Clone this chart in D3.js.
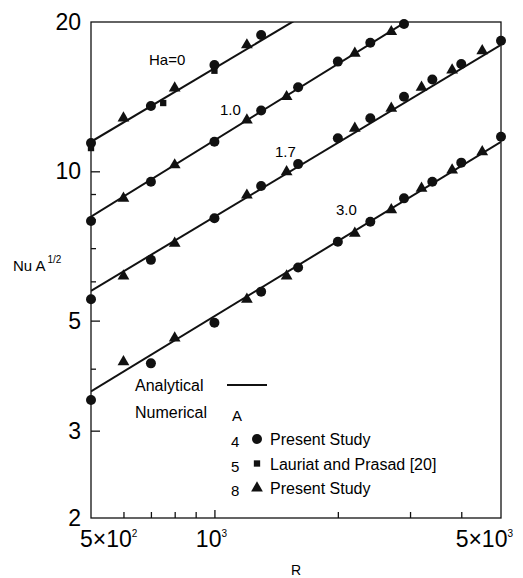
<!DOCTYPE html>
<html>
<head>
<meta charset="utf-8">
<script src="https://cdn.jsdelivr.net/npm/d3@7"></script>
<style>
  body { margin: 0; background: #fff; }
  svg { font-family: "Liberation Sans", Arial, Helvetica, sans-serif; }
</style>
</head>
<body>
<script>
// analytical lines: Nu A^1/2 at R = 500 and R = 5000
const haLabels = ["Ha=0", "1.0", "1.7", "3.0"];
const lineR = [500, 5000];
const lineNu = [[11.47, 35.6], [8.10, 26.3], [5.74, 17.98], [3.60, 11.47]];

// numerical points [R, Nu A^1/2]
const circlesA4 = [
  [500, 11.40], [700, 13.54], [1000, 16.38], [1300, 18.83],
  [500, 7.94], [700, 9.53], [1000, 11.47], [1300, 13.26], [1600, 14.77], [2000, 16.64], [2400, 18.17], [2900, 19.82],
  [500, 5.52], [700, 6.63], [1000, 8.04], [1300, 9.34], [1600, 10.34], [2000, 11.66], [2400, 12.79], [2900, 14.14], [3400, 15.32], [4000, 16.46], [5000, 18.34],
  [500, 3.46], [700, 4.10], [1000, 4.95], [1300, 5.72], [1600, 6.40], [2000, 7.21], [2400, 7.91], [2900, 8.82], [3400, 9.53], [4000, 10.41], [5000, 11.74]
];
const squaresA5 = [[500, 11.14], [750, 13.73], [1000, 15.95]];
const trianglesA8 = [
  [600, 12.80], [800, 14.72], [1200, 17.98],
  [600, 8.82], [800, 10.30], [1200, 12.69], [1500, 14.14], [2200, 17.29], [2700, 19.12],
  [600, 6.15], [800, 7.16], [1200, 8.95], [1500, 9.98], [2200, 12.21], [2700, 13.40], [3200, 14.77], [3800, 16.00], [4500, 17.50],
  [600, 4.13], [800, 4.61], [1200, 5.52], [1500, 6.15], [2200, 7.50], [2700, 8.36], [3200, 9.24], [3800, 10.06], [4500, 10.95]
];

const yMajor = [3, 5, 10];
const yMinor = [4, 6, 7, 8, 9];
const yLabels = [2, 3, 5, 10, 20];
const xMajor = [1000];
const xMinor = [600, 700, 800, 900, 2000, 3000, 4000];

const margin = { top: 22, right: 22, bottom: 60, left: 91 },
      width = 523 - margin.left - margin.right,
      height = 578 - margin.top - margin.bottom;

const svg = d3.select("body").append("svg")
    .attr("width", 523)
    .attr("height", 578)
  .append("g")
    .attr("transform", `translate(${margin.left},${margin.top})`);

const x = d3.scaleLog().domain([500, 5000]).range([0, width]);
const y = d3.scaleLog().domain([2, 20]).range([height, 0]);

svg.append("clipPath").attr("id", "plot")
  .append("rect").attr("width", width).attr("height", height);

// frame
svg.append("rect")
    .attr("width", width)
    .attr("height", height)
    .attr("fill", "none")
    .attr("stroke", "#111")
    .attr("stroke-width", 1.3);

// inward ticks
function ticks(axis) {
  return g => {
    g.call(axis.tickFormat(""));
    g.select(".domain").remove();
    g.selectAll(".tick line").attr("stroke", "#111").attr("stroke-width", 1.3);
  };
}
svg.append("g").call(ticks(d3.axisLeft(y).tickValues(yMajor).tickSize(-9)));
svg.append("g").call(ticks(d3.axisLeft(y).tickValues(yMinor).tickSize(-5)));
svg.append("g").attr("transform", `translate(0,${height})`)
    .call(ticks(d3.axisBottom(x).tickValues(xMajor).tickSize(-8)));
svg.append("g").attr("transform", `translate(0,${height})`)
    .call(ticks(d3.axisBottom(x).tickValues(xMinor).tickSize(-6)));

// y tick labels
svg.selectAll(".ylab")
    .data(yLabels)
    .enter().append("text")
    .attr("x", -10)
    .attr("y", d => y(d) + 8)
    .attr("text-anchor", "end")
    .style("font-size", "23px")
    .text(d => d);

// x tick labels with exponents
const xLabels = [
  { v: 500, pre: "5\u00d710", exp: "2", anchor: "start", dx: -11 },
  { v: 1000, pre: "10", exp: "3", anchor: "middle", dx: -3 },
  { v: 5000, pre: "5\u00d710", exp: "3", anchor: "end", dx: 12 }
];
xLabels.forEach(d => {
  const t = svg.append("text")
      .attr("x", x(d.v) + d.dx)
      .attr("y", height + 29)
      .attr("text-anchor", d.anchor)
      .style("font-size", "23px");
  t.append("tspan").text(d.pre);
  t.append("tspan").attr("dy", -10).style("font-size", "10px").text(d.exp);
});

// axis titles
svg.append("text")
    .attr("x", 296 - margin.left)
    .attr("y", 575 - margin.top)
    .attr("text-anchor", "middle")
    .style("font-size", "14px")
    .text("R");

const yt = svg.append("text")
    .attr("x", 13 - margin.left)
    .attr("y", 271 - margin.top)
    .style("font-size", "15px");
yt.append("tspan").text("Nu A");
yt.append("tspan").attr("dy", -8).attr("dx", 2).style("font-size", "10px").text("1/2");

// analytical lines
const line = d3.line().x(d => x(d[0])).y(d => y(d[1]));
svg.append("g").attr("clip-path", "url(#plot)")
  .selectAll("path")
    .data(lineNu)
    .enter().append("path")
    .attr("d", d => line(lineR.map((r, i) => [r, d[i]])))
    .attr("fill", "none")
    .attr("stroke", "#111")
    .attr("stroke-width", 2);

// curve labels
const haPos = [[149, 65], [220, 115], [275, 157], [336, 215]];
svg.selectAll(".ha")
    .data(haLabels)
    .enter().append("text")
    .attr("x", (d, i) => haPos[i][0] - margin.left)
    .attr("y", (d, i) => haPos[i][1] - margin.top)
    .style("font-size", "15px")
    .text(d => d);

// markers
const tri = d3.symbol().type(d3.symbolTriangle).size(60);
const sq = d3.symbol().type(d3.symbolSquare).size(40);

svg.selectAll(".c4")
    .data(circlesA4)
    .enter().append("circle")
    .attr("cx", d => x(d[0]))
    .attr("cy", d => y(d[1]))
    .attr("r", 5)
    .attr("fill", "#111");

svg.selectAll(".s5")
    .data(squaresA5)
    .enter().append("path")
    .attr("d", sq)
    .attr("transform", d => `translate(${x(d[0])},${y(d[1])})`)
    .attr("fill", "#111");

svg.selectAll(".t8")
    .data(trianglesA8)
    .enter().append("path")
    .attr("d", tri)
    .attr("transform", d => `translate(${x(d[0])},${y(d[1])})`)
    .attr("fill", "#111");

// legend
const lg = svg.append("g").attr("transform", `translate(${-margin.left},${-margin.top})`);
lg.append("text").attr("x", 135).attr("y", 391).style("font-size", "16px").text("Analytical");
lg.append("line").attr("x1", 227).attr("x2", 267).attr("y1", 385).attr("y2", 385)
    .attr("stroke", "#111").attr("stroke-width", 2);
lg.append("text").attr("x", 135).attr("y", 418).style("font-size", "16px").text("Numerical");
lg.append("text").attr("x", 232).attr("y", 421).style("font-size", "15px").text("A");

const legendRows = [
  { a: "4", sym: "circle", label: "Present Study" },
  { a: "5", sym: "square", label: "Lauriat and Prasad [20]" },
  { a: "8", sym: "triangle", label: "Present Study" }
];
legendRows.forEach((d, i) => {
  const cy = 439 + i * 24.5;
  lg.append("text").attr("x", 231).attr("y", cy + 8).style("font-size", "15px").text(d.a);
  if (d.sym === "circle") {
    lg.append("circle").attr("cx", 257).attr("cy", cy).attr("r", 5).attr("fill", "#111");
  } else {
    lg.append("path").attr("d", d.sym === "square" ? sq : tri)
        .attr("transform", `translate(257,${cy})`).attr("fill", "#111");
  }
  lg.append("text").attr("x", 270).attr("y", cy + 6).style("font-size", "16px").text(d.label);
});
</script>
</body>
</html>
